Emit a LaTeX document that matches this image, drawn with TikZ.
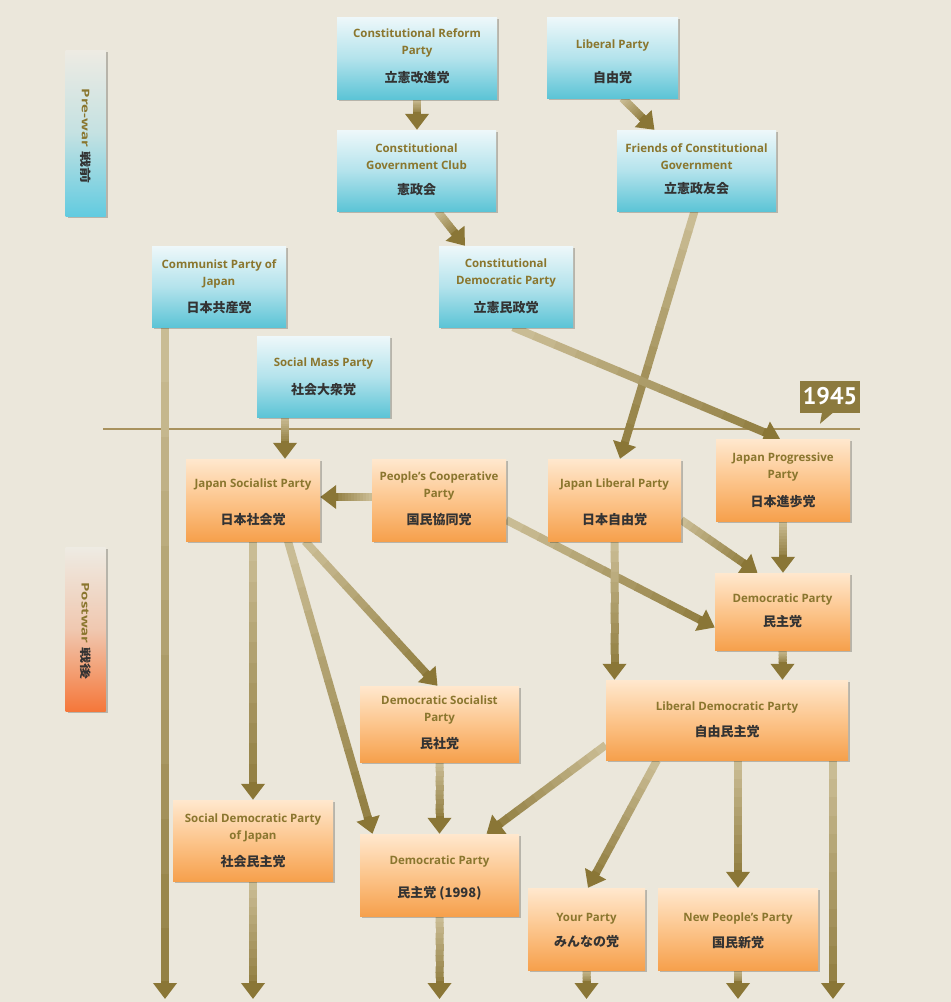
\documentclass[tikz,border=0pt]{standalone}
\usepackage{fontspec}
\setmainfont{Open Sans}
\newfontfamily\yearfont{PT Sans}
\newfontfamily\jpfont{Noto Sans CJK JP}
\usetikzlibrary{calc,shadows,arrows.meta}
\definecolor{bgcol}{HTML}{EBE7DB}
\definecolor{bltop}{HTML}{EEF8FA}
\definecolor{blmid}{HTML}{B4E3EC}
\definecolor{blbot}{HTML}{5CC4D6}
\definecolor{ortop}{HTML}{FFE8CE}
\definecolor{ormid}{HTML}{FCC58C}
\definecolor{orbot}{HTML}{F6A04C}
\definecolor{entext}{HTML}{8A762E}
\definecolor{jptext}{HTML}{333333}
\definecolor{arrowdark}{HTML}{8A7636}
\definecolor{arrowlight}{HTML}{CFC29C}
\definecolor{linecol}{HTML}{A8925E}
\definecolor{yearcol}{HTML}{8C7A3E}
\definecolor{sidetop}{HTML}{EEEBE3}
\definecolor{sidecyan}{HTML}{62CBE0}
\definecolor{sideorange}{HTML}{F5773A}
\pgfdeclarelayer{bglayer}
\pgfdeclarelayer{connlayer}
\pgfsetlayers{bglayer,connlayer,main}
\tikzset{
  boxshadow/.style={drop shadow={shadow xshift=2pt,shadow yshift=-2pt,fill=black,opacity=0.22}},
  blbox/.style={rectangle,inner sep=0pt,top color=bltop,bottom color=blbot,middle color=blmid,boxshadow},
  orbox/.style={rectangle,inner sep=0pt,top color=ortop,bottom color=orbot,middle color=ormid,boxshadow},
  en/.style={font=\bfseries\fontsize{11.5}{17}\selectfont,text=entext,align=center,inner sep=0pt},
  jp/.style={font=\jpfont\bfseries\fontsize{13}{14}\selectfont,text=jptext,inner sep=0pt},
  sidebox/.style={rectangle,inner sep=0pt,minimum width=40pt,boxshadow},
  sidetext/.style={rotate=-90,yscale=0.7,inner sep=0pt,font=\bfseries\fontsize{15}{16}\selectfont},
}
\newcommand{\conn}[2]{%
  \coordinate (cA) at (#1);
  \coordinate (cB) at (#2);
  \coordinate (cE) at ($(cB)!16pt!(cA)$);
  \foreach \k in {0,...,11}{%
    \pgfmathtruncatemacro{\pcv}{8+7*\k}%
    \draw[line width=8pt,draw=arrowdark!\pcv!arrowlight,shorten >=-1pt]
      ($(cA)!{\k/12}!(cE)$) -- ($(cA)!{(\k+1)/12}!(cE)$);
  }
  \draw[line width=8pt,draw=arrowdark,fill=arrowdark,-{Triangle[width=23pt,length=16pt]}]
    ($(cB)!18pt!(cA)$) -- (cB);
}
\begin{document}
\begin{tikzpicture}[x=1pt,y=-1pt]
\begin{pgfonlayer}{bglayer}
\fill[bgcol] (0,0) rectangle (951,1002);
\end{pgfonlayer}
\useasboundingbox (0,0) rectangle (951,1002);

% side labels
\node[sidebox,minimum height=166pt,top color=sidetop,bottom color=sidecyan,middle color=sidetop!70!sidecyan] (prewar) at (85.5,133) {};
\node[sidetext] (prewar-t) at (86,136) {\textcolor{entext}{Pre-war} \textcolor{jptext}{\jpfont\bfseries\fontsize{16}{16}\selectfont 戦前}};
\node[sidebox,minimum height=164pt,top color=sidetop,bottom color=sideorange,middle color=sidetop!70!sideorange] (postwar) at (85.5,629) {};
\node[sidetext] (postwar-t) at (86,631) {\textcolor{entext}{Postwar} \textcolor{jptext}{\jpfont\bfseries\fontsize{16}{16}\selectfont 戦後}};

% 1945 line and label
\coordinate (lineL) at (103,429);
\coordinate (lineR) at (860,429);
\begin{pgfonlayer}{bglayer}
\draw[linecol,line width=2pt] (lineL) -- (lineR);
\end{pgfonlayer}
\node[fill=yearcol,text=white,font=\yearfont\bfseries\fontsize{24}{24}\selectfont,minimum width=60pt,minimum height=32pt,inner sep=0pt] (y1945) at (830,396.5) {1945};
\fill[yearcol] ([xshift=-8pt]y1945.south) -- ([xshift=-10pt,yshift=-11pt]y1945.south) -- ([xshift=3pt]y1945.south) -- cycle;

% pre-war boxes
\node[blbox,minimum width=160pt,minimum height=82pt] (crp) at (417,58) {};
\node[en] (crp-en) at ($(crp)+(0,-15)$) {Constitutional Reform\\Party};
\node[jp] (crp-jp) at ($(crp)+(0,20)$) {立憲改進党};

\node[blbox,minimum width=131pt,minimum height=81pt] (lp) at (612.5,57.5) {};
\node[en] (lp-en) at ($(lp)+(0,-11.5)$) {Liberal Party};
\node[jp] (lp-jp) at ($(lp)+(0,20.5)$) {自由党};

\node[blbox,minimum width=159pt,minimum height=81pt] (cgc) at (416.5,170.5) {};
\node[en] (cgc-en) at ($(cgc)+(0,-13.5)$) {Constitutional\\Government Club};
\node[jp] (cgc-jp) at ($(cgc)+(0,19.5)$) {憲政会};

\node[blbox,minimum width=159pt,minimum height=81pt] (fcg) at (696.5,170.5) {};
\node[en] (fcg-en) at ($(fcg)+(0,-14)$) {Friends of Constitutional\\Government};
\node[jp] (fcg-jp) at ($(fcg)+(0,18)$) {立憲政友会};

\node[blbox,minimum width=134pt,minimum height=81pt] (cdp) at (506,286.5) {};
\node[en] (cdp-en) at ($(cdp)+(0,-13)$) {Constitutional\\Democratic Party};
\node[jp] (cdp-jp) at ($(cdp)+(0,21.5)$) {立憲民政党};

\node[blbox,minimum width=134pt,minimum height=81pt] (cpj) at (219,286.5) {};
\node[en] (cpj-en) at ($(cpj)+(0,-13)$) {Communist Party of\\Japan};
\node[jp] (cpj-jp) at ($(cpj)+(0,21.5)$) {日本共産党};

\node[blbox,minimum width=133pt,minimum height=81pt] (smp) at (323.5,376.5) {};
\node[en] (smp-en) at ($(smp)+(0,-12.5)$) {Social Mass Party};
\node[jp] (smp-jp) at ($(smp)+(0,13.5)$) {社会大衆党};

% postwar boxes
\node[orbox,minimum width=134pt,minimum height=82pt] (jpp) at (783,480) {};
\node[en] (jpp-en) at ($(jpp)+(0,-13)$) {Japan Progressive\\Party};
\node[jp] (jpp-jp) at ($(jpp)+(0,22)$) {日本進歩党};

\node[orbox,minimum width=134pt,minimum height=82pt] (jsp) at (253,500) {};
\node[en] (jsp-en) at ($(jsp)+(0,-15)$) {Japan Socialist Party};
\node[jp] (jsp-jp) at ($(jsp)+(0,20)$) {日本社会党};

\node[orbox,minimum width=134pt,minimum height=82pt] (pcp) at (439,500) {};
\node[en] (pcp-en) at ($(pcp)+(0,-13.5)$) {People's Cooperative\\Party};
\node[jp] (pcp-jp) at ($(pcp)+(0,20)$) {国民協同党};

\node[orbox,minimum width=133pt,minimum height=82pt] (jlp) at (614.5,500) {};
\node[en] (jlp-en) at ($(jlp)+(0,-15)$) {Japan Liberal Party};
\node[jp] (jlp-jp) at ($(jlp)+(0,20)$) {日本自由党};

\node[orbox,minimum width=135pt,minimum height=77pt] (dp) at (782.5,611.5) {};
\node[en] (dp-en) at ($(dp)+(0,-11.5)$) {Democratic Party};
\node[jp] (dp-jp) at ($(dp)+(0,10.5)$) {民主党};

\node[orbox,minimum width=242pt,minimum height=80pt] (ldp) at (727,720) {};
\node[en] (ldp-en) at ($(ldp)+(0,-12)$) {Liberal Democratic Party};
\node[jp] (ldp-jp) at ($(ldp)+(0,12)$) {自由民主党};

\node[orbox,minimum width=159pt,minimum height=76pt] (dsp) at (439.5,724) {};
\node[en] (dsp-en) at ($(dsp)+(0,-13.5)$) {Democratic Socialist\\Party};
\node[jp] (dsp-jp) at ($(dsp)+(0,20)$) {民社党};

\node[orbox,minimum width=160pt,minimum height=81pt] (sdpj) at (253,840.5) {};
\node[en] (sdpj-en) at ($(sdpj)+(0,-12)$) {Social Democratic Party\\of Japan};
\node[jp] (sdpj-jp) at ($(sdpj)+(0,21.5)$) {社会民主党};

\node[orbox,minimum width=159pt,minimum height=82pt] (dp98) at (439.5,875) {};
\node[en] (dp98-en) at ($(dp98)+(0,-13)$) {Democratic Party};
\node[jp] (dp98-jp) at ($(dp98)+(0,18)$) {民主党 (1998)};

\node[orbox,minimum width=117pt,minimum height=82pt] (yp) at (586.5,929) {};
\node[en] (yp-en) at ($(yp)+(0,-10)$) {Your Party};
\node[jp] (yp-jp) at ($(yp)+(0,13)$) {みんなの党};

\node[orbox,minimum width=160pt,minimum height=82pt] (npp) at (738,929) {};
\node[en] (npp-en) at ($(npp)+(0,-10)$) {New People's Party};
\node[jp] (npp-jp) at ($(npp)+(0,14)$) {国民新党};

% exit coordinates
\coordinate (bot) at (0,999);
\coordinate (cpjx) at ([xshift=-54pt]cpj.south);
\coordinate (ldpx) at ([xshift=106pt]ldp.south);

\begin{pgfonlayer}{connlayer}
\conn{crp.south}{crp.south |- cgc.north}
\conn{[xshift=10pt]lp.south}{[xshift=-42pt]fcg.north}
\conn{[xshift=21pt]cgc.south}{[xshift=-41pt]cdp.north}
\conn{[xshift=-2pt]fcg.south}{[xshift=5.5pt]jlp.north}
\conn{[xshift=7pt]cdp.south}{[xshift=-3pt]jpp.north}
\conn{cpjx}{cpjx |- bot}
\conn{[xshift=-38.5pt]smp.south}{[xshift=32pt]jsp.north}
\conn{[yshift=3pt]pcp.west}{[yshift=3pt]jsp.east}
\conn{[yshift=-20pt]pcp.east}{[yshift=-16pt]dp.west}
\conn{[yshift=-20pt]jlp.east}{[xshift=-25pt]dp.north}
\conn{jpp.south}{jpp.south |- dp.north}
\conn{jlp.south}{jlp.south |- ldp.north}
\conn{dp.south}{dp.south |- ldp.north}
\conn{jsp.south}{jsp.south |- sdpj.north}
\conn{[xshift=52pt]jsp.south}{[xshift=-2pt]dsp.north}
\conn{[xshift=35pt]jsp.south}{[xshift=-67pt]dp98.north}
\conn{dsp.south}{dsp.south |- dp98.north}
\conn{[yshift=-25pt]ldp.west}{[xshift=47pt]dp98.north}
\conn{[xshift=-70pt]ldp.south}{[xshift=1.5pt]yp.north}
\conn{ldp.south -| npp.north}{npp.north}
\conn{ldpx}{ldpx |- bot}
\conn{sdpj.south}{sdpj.south |- bot}
\conn{dp98.south}{dp98.south |- bot}
\conn{yp.south}{yp.south |- bot}
\conn{npp.south}{npp.south |- bot}
\end{pgfonlayer}
\end{tikzpicture}
\end{document}
